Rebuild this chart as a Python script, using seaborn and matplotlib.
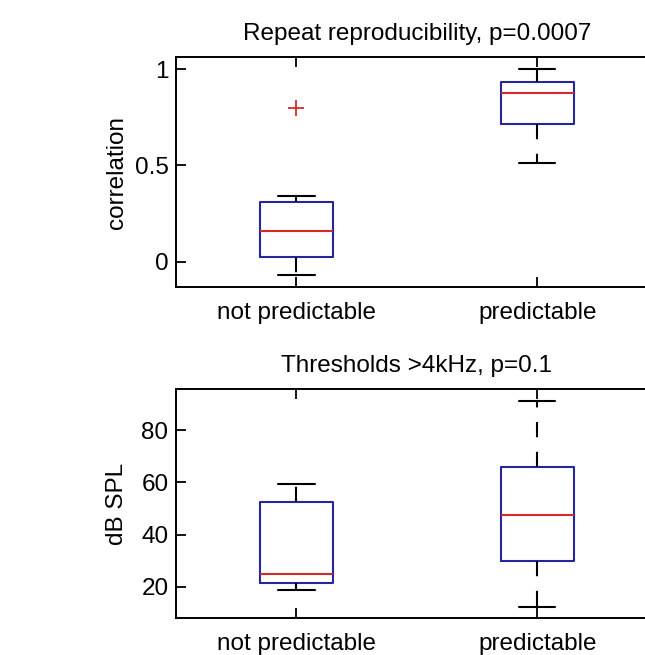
import matplotlib
matplotlib.use("Agg")
import matplotlib.pyplot as plt
import numpy as np
import pandas as pd
import seaborn as sns

groups = ["not predictable", "predictable"]

# repeat reproducibility: lower whisker, q1, median, q3, upper whisker, outliers
corr_low = [-0.069, 0.513]
corr_q1 = [0.026, 0.713]
corr_median = [0.161, 0.876]
corr_q3 = [0.312, 0.933]
corr_high = [0.342, 1.0]
corr_outliers = [[0.80], []]

# thresholds > 4kHz (dB SPL)
spl_low = [18.6, 12.1]
spl_q1 = [21.3, 29.9]
spl_median = [25.0, 47.5]
spl_q3 = [52.4, 65.8]
spl_high = [59.5, 91.3]
spl_outliers = [[], []]

BLUE = "#26269c"
RED = "#d42a2a"
FS = 17.5


def make_sample(low, q1, med, q3, high, outliers):
    # each summary value repeated 4 times -> quartiles land exactly on them
    parts = []
    for i, g in enumerate(groups):
        vals = np.repeat([low[i], q1[i], med[i], q3[i], high[i]], 4)
        vals = np.concatenate([vals, np.array(outliers[i], dtype=float)])
        parts.append(pd.DataFrame({"group": g, "value": vals}))
    return pd.concat(parts, ignore_index=True)


def draw(ax, df, title, ylabel, ylim, yticks, yticklabels):
    sns.boxplot(data=df, x="group", y="value", order=groups, ax=ax,
                width=0.3, whis=1.5, fill=False, linewidth=1.5,
                boxprops=dict(color=BLUE),
                medianprops=dict(color=RED),
                whiskerprops=dict(color="black", linestyle=(0, (7.3, 7))),
                capprops=dict(color="black"),
                flierprops=dict(marker="+", markeredgecolor=RED, markersize=12,
                                markeredgewidth=1.3))
    ax.set_xlim(-0.5, 1.5)
    ax.set_ylim(*ylim)
    ax.set_yticks(yticks)
    ax.set_yticklabels(yticklabels)
    ax.set_xlabel("")
    ax.set_ylabel(ylabel, fontsize=FS, color="black")
    ax.yaxis.set_label_coords(-0.10, 0.5)
    ax.set_title(title, fontsize=FS, pad=12, color="black")
    ax.tick_params(direction="in", length=7, width=1.3, top=True, right=True,
                   bottom=True, left=True, labelsize=FS, colors="black")
    ax.tick_params(axis="y", pad=5.5)
    ax.tick_params(axis="x", pad=11)
    for sp in ax.spines.values():
        sp.set_visible(True)
        sp.set_color("black")
        sp.set_linewidth(1.4)


sns.set_style("white")
plt.rcParams["font.family"] = ["Liberation Sans", "DejaVu Sans"]
plt.rcParams["text.color"] = "black"

fig = plt.figure(figsize=(6.45, 6.55), dpi=100)
ax1 = fig.add_axes([0.2729, 0.5618, 0.747, 0.3511])
ax2 = fig.add_axes([0.2729, 0.0565, 0.747, 0.3496])

corr_df = make_sample(corr_low, corr_q1, corr_median, corr_q3, corr_high, corr_outliers)
spl_df = make_sample(spl_low, spl_q1, spl_median, spl_q3, spl_high, spl_outliers)

draw(ax1, corr_df, "Repeat reproducibility, p=0.0007", "correlation",
     (-0.13, 1.062), [0, 0.5, 1], ["0", "0.5", "1"])
draw(ax2, spl_df, "Thresholds >4kHz, p=0.1", "dB SPL",
     (8, 95.8), [20, 40, 60, 80], ["20", "40", "60", "80"])

fig.savefig("out.png", dpi=100)
